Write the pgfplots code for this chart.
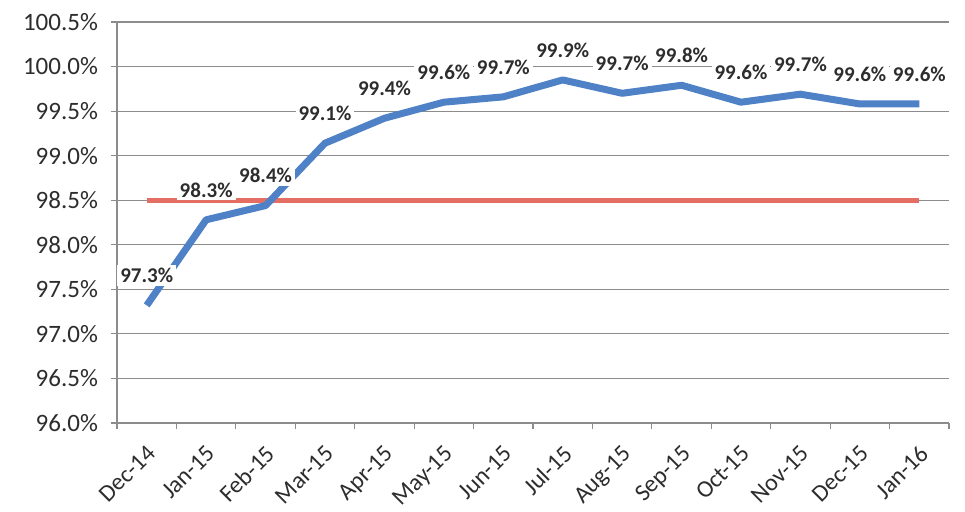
\documentclass[border=0pt]{standalone}
\usepackage{pgfplots}
\pgfplotsset{compat=1.18}
\usepackage{fontspec}
\setmainfont{Carlito}
\definecolor{blueline}{RGB}{79,129,199}
\definecolor{redline}{RGB}{229,110,100}
\definecolor{gridgray}{RGB}{140,140,140}
\definecolor{txt}{RGB}{45,45,45}
\begin{document}
\begin{tikzpicture}
\useasboundingbox (-58.5pt,-44.5pt) rectangle (424pt,211.5pt);
\begin{axis}[
  at={(0,0)}, anchor=south west,
  scale only axis, width=416pt, height=200.5pt,
  xmin=-0.5, xmax=13.5, ymin=96, ymax=100.5,
  clip=false,
  axis x line*=bottom, axis y line*=left,
  axis line style={-, draw=gridgray, line width=0.6pt},
  ymajorgrids, grid style={draw=gridgray, line width=0.6pt},
  tick align=outside, major tick length=3pt,
  tick style={draw=gridgray, line width=0.6pt},
  xtick={-0.5,0.5,1.5,2.5,3.5,4.5,5.5,6.5,7.5,8.5,9.5,10.5,11.5,12.5,13.5},
  x tick label as interval,
  xticklabels={Dec-14,Jan-15,Feb-15,Mar-15,Apr-15,May-15,Jun-15,Jul-15,Aug-15,Sep-15,Oct-15,Nov-15,Dec-15,Jan-16},
  xticklabel style={rotate=45, anchor=north east, inner sep=1pt, yshift=-3.8pt, xshift=-4.4pt, font=\fontsize{12}{14}\selectfont, text=txt},
  ytick={96,96.5,97,97.5,98,98.5,99,99.5,100,100.5},
  yticklabel={\pgfmathprintnumber[fixed,fixed zerofill,precision=1]{\tick}\%},
  /pgf/number format/assume math mode=true,
  yticklabel style={font=\fontsize{12.5}{15}\selectfont, text=txt, xshift=-3pt},
]
\addplot[redline, line width=2.5pt] coordinates {
 (0,98.5) (1,98.5) (2,98.5) (3,98.5) (4,98.5) (5,98.5) (6,98.5)
 (7,98.5) (8,98.5) (9,98.5) (10,98.5) (11,98.5) (12,98.5) (13,98.5)};
\addplot[blueline, line width=3.5pt, line join=round,
  nodes near coords={\pgfmathprintnumber[fixed,fixed zerofill,precision=1,assume math mode=true]{\pgfplotspointmeta}\%},
  every node near coord/.append style={font=\fontsize{10.5}{12}\selectfont\bfseries, fill=white, inner sep=1.5pt, anchor=south, yshift=8pt, text=txt}]
 coordinates {
 (0,97.32) (1,98.28) (2,98.44) (3,99.14) (4,99.42) (5,99.6) (6,99.66)
 (7,99.85) (8,99.7) (9,99.79) (10,99.6) (11,99.69) (12,99.58) (13,99.58)};
\end{axis}
\end{tikzpicture}
\end{document}
